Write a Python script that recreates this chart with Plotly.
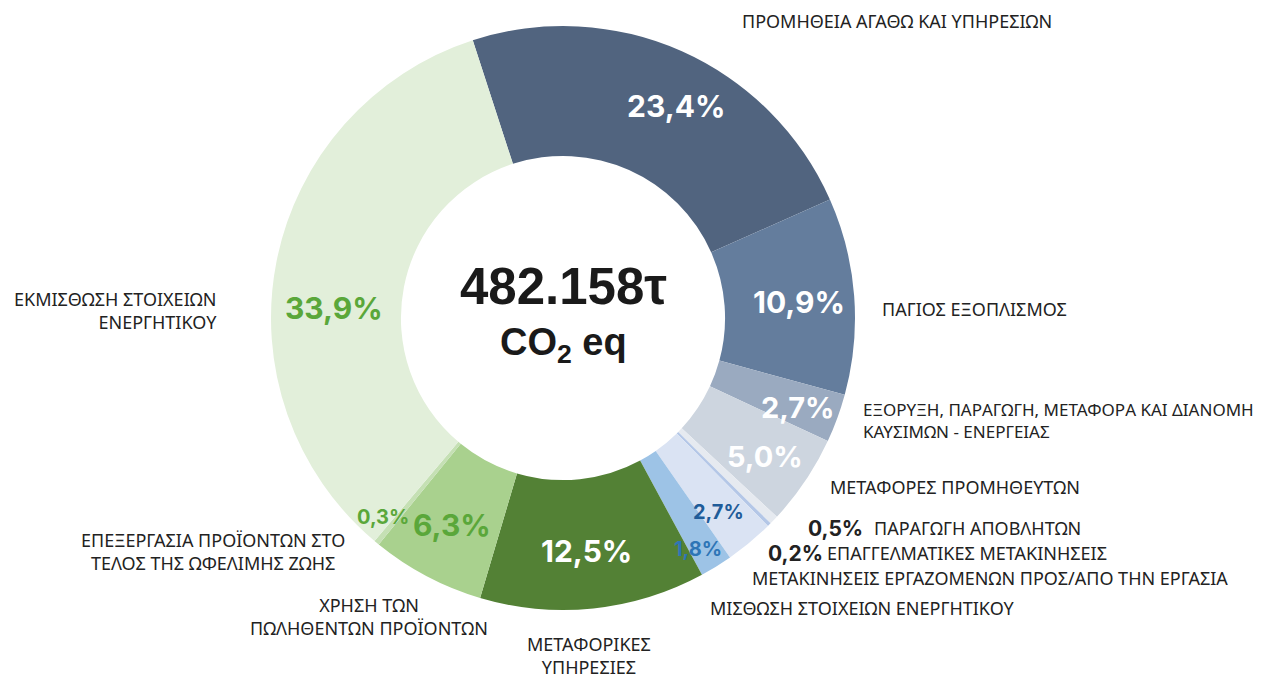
import plotly.graph_objects as go

W, H = 1275, 675

categories = [
    "ΠΡΟΜΗΘΕΙΑ ΑΓΑΘΩ ΚΑΙ ΥΠΗΡΕΣΙΩΝ",
    "ΠΑΓΙΟΣ ΕΞΟΠΛΙΣΜΟΣ",
    "ΕΞΟΡΥΞΗ, ΠΑΡΑΓΩΓΗ, ΜΕΤΑΦΟΡΑ ΚΑΙ ΔΙΑΝΟΜΗ ΚΑΥΣΙΜΩΝ - ΕΝΕΡΓΕΙΑΣ",
    "ΜΕΤΑΦΟΡΕΣ ΠΡΟΜΗΘΕΥΤΩΝ",
    "ΠΑΡΑΓΩΓΗ ΑΠΟΒΛΗΤΩΝ",
    "ΕΠΑΓΓΕΛΜΑΤΙΚΕΣ ΜΕΤΑΚΙΝΗΣΕΙΣ",
    "ΜΕΤΑΚΙΝΗΣΕΙΣ ΕΡΓΑΖΟΜΕΝΩΝ ΠΡΟΣ/ΑΠΟ ΤΗΝ ΕΡΓΑΣΙΑ",
    "ΜΙΣΘΩΣΗ ΣΤΟΙΧΕΙΩΝ ΕΝΕΡΓΗΤΙΚΟΥ",
    "ΜΕΤΑΦΟΡΙΚΕΣ ΥΠΗΡΕΣΙΕΣ",
    "ΧΡΗΣΗ ΤΩΝ ΠΩΛΗΘΕΝΤΩΝ ΠΡΟΪΟΝΤΩΝ",
    "ΕΠΕΞΕΡΓΑΣΙΑ ΠΡΟΪΟΝΤΩΝ ΣΤΟ ΤΕΛΟΣ ΤΗΣ ΩΦΕΛΙΜΗΣ ΖΩΗΣ",
    "ΕΚΜΙΣΘΩΣΗ ΣΤΟΙΧΕΙΩΝ ΕΝΕΡΓΗΤΙΚΟΥ",
]
values = [23.4, 10.9, 2.7, 5.0, 0.5, 0.2, 2.7, 1.8, 12.5, 6.3, 0.3, 33.9]
total_label = "482.158τ"
unit_label = "CO<sub>2</sub> eq"

colors = ["#51647F", "#647D9D", "#9AAAC0", "#CDD5DF", "#E6EAF0", "#B4C7E7",
          "#DAE3F3", "#9DC3E6", "#538135", "#A9D18E", "#C5E0B4", "#E2EFDA"]


def pct(v):
    return f"{v:.1f}".replace(".", ",") + "%"


def px(x):
    return x / W


def py(y):
    return 1 - y / H


cx, cy, R = 563, 318, 292

fig = go.Figure(go.Pie(
    labels=categories,
    values=values,
    sort=False,
    direction="clockwise",
    rotation=-18,
    hole=0.555,
    marker=dict(colors=colors, line=dict(width=0)),
    textinfo="none",
    hoverinfo="label+percent",
    showlegend=False,
    domain=dict(x=[px(cx - R), px(cx + R)], y=[py(cy + R), py(cy - R)]),
))

ann = []

# percentage labels inside / next to slices: (index, x, y, size, color)
pct_pos = [
    (0, 676, 106, 30, "#FFFFFF"),
    (1, 799, 302, 30, "#FFFFFF"),
    (2, 798, 407, 29, "#FFFFFF"),
    (3, 765, 457, 29, "#FFFFFF"),
    (6, 718, 512, 20, "#1F5C99"),
    (7, 698, 549, 20, "#2E75B6"),
    (8, 586, 551, 30, "#FFFFFF"),
    (9, 452, 525, 30, "#5AA73A"),
    (10, 383, 517, 20, "#5AA73A"),
    (11, 334, 308, 30, "#5AA73A"),
    (4, 835, 528, 21, "#222222"),
    (5, 795, 553, 21, "#222222"),
]
for i, x, y, s, c in pct_pos:
    ann.append(dict(x=px(x), y=py(y), xref="paper", yref="paper", showarrow=False,
                    text=pct(values[i]), xanchor="center", yanchor="middle",
                    font=dict(family="Inter", size=s, color=c, weight=700)))

# category labels: (index, text, x, y, xanchor, align, size)
lab = [
    (0, categories[0], 740, 21, "left", "left", 18),
    (1, categories[1], 880, 309, "left", "left", 18),
    (2, "ΕΞΟΡΥΞΗ, ΠΑΡΑΓΩΓΗ, ΜΕΤΑΦΟΡΑ ΚΑΙ ΔΙΑΝΟΜΗ<br>ΚΑΥΣΙΜΩΝ - ΕΝΕΡΓΕΙΑΣ", 861, 420, "left", "left", 17),
    (3, categories[3], 828, 487, "left", "left", 18),
    (4, categories[4], 872, 528, "left", "left", 18),
    (5, categories[5], 825, 553, "left", "left", 18),
    (6, categories[6], 750, 578, "left", "left", 18),
    (7, categories[7], 708, 608, "left", "left", 18),
    (8, "ΜΕΤΑΦΟΡΙΚΕΣ<br>ΥΠΗΡΕΣΙΕΣ", 589, 655, "center", "center", 18),
    (9, "ΧΡΗΣΗ ΤΩΝ<br>ΠΩΛΗΘΕΝΤΩΝ ΠΡΟΪΟΝΤΩΝ", 369, 616, "center", "center", 18),
    (10, "ΕΠΕΞΕΡΓΑΣΙΑ ΠΡΟΪΟΝΤΩΝ ΣΤΟ<br>ΤΕΛΟΣ ΤΗΣ ΩΦΕΛΙΜΗΣ ΖΩΗΣ", 213, 551, "center", "center", 18),
    (11, "ΕΚΜΙΣΘΩΣΗ ΣΤΟΙΧΕΙΩΝ<br>ΕΝΕΡΓΗΤΙΚΟΥ", 219, 310, "right", "right", 18),
]
for i, t, x, y, xa, al, s in lab:
    ann.append(dict(x=px(x), y=py(y), xref="paper", yref="paper", showarrow=False,
                    text=t, xanchor=xa, yanchor="middle", align=al,
                    font=dict(family="Noto Sans", size=s, color="#222222")))

# centre text
ann.append(dict(x=px(cx), y=py(287), xref="paper", yref="paper", showarrow=False,
                text=total_label, xanchor="center", yanchor="middle",
                font=dict(family="Liberation Sans", size=51, color="#1A1A1A", weight=700)))
ann.append(dict(x=px(cx), y=py(345), xref="paper", yref="paper", showarrow=False,
                text=unit_label, xanchor="center", yanchor="middle",
                font=dict(family="Liberation Sans", size=38, color="#1A1A1A", weight=700)))

fig.update_layout(
    width=W, height=H,
    margin=dict(l=0, r=0, t=0, b=0),
    paper_bgcolor="white", plot_bgcolor="white",
    annotations=ann,
)

fig.write_html("out.html", config={"displayModeBar": False},
               post_script="document.body.style.margin='0';")
